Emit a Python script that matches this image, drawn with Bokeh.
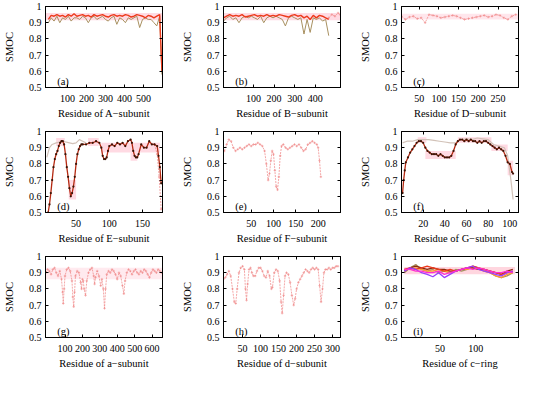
from bokeh.plotting import figure
from bokeh.layouts import gridplot
from bokeh.models import FixedTicker, LinearAxis, CustomJSTickFormatter, Range1d, Label
from bokeh.embed import file_html
from bokeh.resources import INLINE

FONT = "'Liberation Serif', serif"
YTICKS = [0.5, 0.6, 0.7, 0.8, 0.9, 1.0]

# ---------------- data ----------------
# (a) A-subunit
A_x = list(range(0, 586, 15)) + [597]
A_red = [0.92, 0.945, 0.94, 0.95, 0.94, 0.945, 0.935, 0.95, 0.94, 0.955,
         0.94, 0.945, 0.95, 0.94, 0.945, 0.935, 0.95, 0.94, 0.945, 0.95,
         0.94, 0.935, 0.945, 0.95, 0.94, 0.945, 0.94, 0.95, 0.945, 0.935,
         0.94, 0.95, 0.945, 0.94, 0.93, 0.945, 0.94, 0.93, 0.94, 0.95, 0.60]
A_dark = [0.90, 0.93, 0.91, 0.94, 0.90, 0.93, 0.92, 0.94, 0.91, 0.93,
          0.93, 0.92, 0.94, 0.93, 0.90, 0.93, 0.94, 0.92, 0.93, 0.94,
          0.92, 0.91, 0.93, 0.94, 0.89, 0.93, 0.92, 0.90, 0.93, 0.92,
          0.93, 0.94, 0.87, 0.92, 0.93, 0.92, 0.92, 0.90, 0.88, 0.94, 0.58]
A_band = [(-15, 600, 0.915, 0.96)]

# (b) B-subunit
B_x = list(range(-45, 470, 15))
B_red = [0.93, 0.94, 0.95, 0.94, 0.945, 0.94, 0.95, 0.935, 0.94, 0.945,
         0.95, 0.94, 0.945, 0.94, 0.95, 0.94, 0.945, 0.94, 0.95, 0.945,
         0.94, 0.935, 0.945, 0.95, 0.94, 0.945, 0.93, 0.94, 0.92, 0.945,
         0.93, 0.945, 0.94, 0.93, 0.92]
B_dark = [0.91, 0.93, 0.94, 0.92, 0.93, 0.90, 0.93, 0.94, 0.93, 0.94,
          0.93, 0.92, 0.94, 0.90, 0.93, 0.94, 0.93, 0.94, 0.93, 0.92,
          0.88, 0.93, 0.94, 0.93, 0.92, 0.93, 0.83, 0.92, 0.84, 0.93,
          0.92, 0.93, 0.91, 0.92, 0.82]
B_tail = [(465, 0.93), (480, 0.95), (495, 0.94), (510, 0.96), (520, 0.95)]
B_band = [(-45, 522, 0.915, 0.96)]

# (c) D-subunit
C_x = list(range(5, 300, 10))
C_pink = [0.94, 0.92, 0.935, 0.94, 0.925, 0.93, 0.90, 0.95, 0.945, 0.94,
          0.93, 0.935, 0.94, 0.945, 0.94, 0.93, 0.92, 0.925, 0.93, 0.935,
          0.94, 0.945, 0.935, 0.94, 0.95, 0.945, 0.93, 0.92, 0.94, 0.95]
C_band = [(5, 302, 0.92, 0.955)]

# (d) E-subunit
D_dark = [(8, 0.50), (10, 0.55), (12, 0.62), (14, 0.70), (16, 0.78), (18, 0.83), (20, 0.86),
          (22, 0.88), (24, 0.91), (26, 0.93), (28, 0.94), (30, 0.94), (32, 0.92), (34, 0.86),
          (36, 0.78), (38, 0.72), (40, 0.65), (42, 0.60), (44, 0.62), (46, 0.66), (48, 0.72),
          (50, 0.80), (52, 0.86), (54, 0.89), (56, 0.91), (58, 0.92), (60, 0.92), (65, 0.92),
          (70, 0.93), (75, 0.93), (80, 0.94), (85, 0.93), (88, 0.90), (90, 0.85), (92, 0.83),
          (94, 0.83), (96, 0.84), (98, 0.88), (100, 0.91), (104, 0.92), (108, 0.91), (112, 0.93),
          (116, 0.92), (120, 0.93), (124, 0.91), (128, 0.94), (132, 0.95), (134, 0.93), (136, 0.88),
          (138, 0.85), (140, 0.84), (142, 0.84), (144, 0.86), (148, 0.92), (152, 0.90), (156, 0.90),
          (160, 0.94), (164, 0.92), (168, 0.92), (172, 0.91), (174, 0.85), (176, 0.78), (178, 0.68)]
D_gray = [(6, 0.84), (10, 0.90), (14, 0.92), (20, 0.93), (30, 0.94), (40, 0.93), (45, 0.925),
          (50, 0.93), (55, 0.95), (60, 0.94), (65, 0.93)]
D_pink_end = [(168, 0.92), (172, 0.86), (175, 0.72), (178, 0.52)]
D_band = [(20, 33, 0.91, 0.96), (39, 50, 0.58, 0.70), (68, 84, 0.91, 0.96),
          (88, 176, 0.87, 0.93), (132, 142, 0.82, 0.87)]

# (e) F-subunit
E_pink = [(-10, 0.88), (-5, 0.92), (0, 0.95), (5, 0.94), (10, 0.90), (15, 0.88), (20, 0.89),
          (25, 0.90), (30, 0.89), (35, 0.90), (40, 0.91), (45, 0.92), (50, 0.91), (55, 0.92),
          (60, 0.92), (65, 0.93), (70, 0.92), (75, 0.91), (80, 0.88), (84, 0.80), (88, 0.70),
          (91, 0.74), (94, 0.82), (97, 0.88), (100, 0.86), (103, 0.76), (106, 0.66), (109, 0.64),
          (112, 0.72), (115, 0.85), (118, 0.91), (122, 0.92), (127, 0.90), (132, 0.89), (137, 0.90),
          (142, 0.91), (147, 0.92), (152, 0.91), (157, 0.92), (162, 0.90), (167, 0.88), (172, 0.89),
          (177, 0.92), (182, 0.93), (187, 0.94), (192, 0.93), (197, 0.92), (200, 0.90), (203, 0.82),
          (206, 0.72)]

# (f) G-subunit
F_dark = [(1, 0.62), (2, 0.70), (3, 0.76), (4, 0.81), (6, 0.84), (8, 0.87), (10, 0.89), (12, 0.91),
          (14, 0.93), (16, 0.94), (18, 0.94), (20, 0.93), (22, 0.90), (24, 0.88), (26, 0.87),
          (28, 0.86), (30, 0.86), (32, 0.86), (34, 0.85), (36, 0.86), (38, 0.85), (40, 0.84),
          (42, 0.84), (44, 0.84), (46, 0.85), (48, 0.88), (50, 0.92), (52, 0.94), (54, 0.95),
          (56, 0.95), (58, 0.94), (60, 0.95), (62, 0.94), (64, 0.95), (66, 0.94), (68, 0.94),
          (70, 0.93), (72, 0.94), (74, 0.93), (76, 0.94), (78, 0.94), (80, 0.93), (82, 0.92),
          (84, 0.91), (86, 0.90), (88, 0.89), (90, 0.90), (92, 0.89), (94, 0.88), (96, 0.85),
          (98, 0.81), (100, 0.80), (102, 0.75), (103, 0.74)]
F_gray = [(1, 0.93), (5, 0.94), (10, 0.94), (15, 0.95), (20, 0.95), (25, 0.95), (30, 0.945),
          (35, 0.94), (40, 0.935), (45, 0.93), (50, 0.93), (55, 0.95), (60, 0.955), (65, 0.95),
          (70, 0.96), (75, 0.955), (80, 0.95), (85, 0.92), (90, 0.91), (95, 0.90), (98, 0.85),
          (101, 0.70), (103, 0.58)]
F_band = [(15, 23, 0.93, 0.965), (22, 50, 0.83, 0.88), (52, 83, 0.93, 0.965),
          (83, 98, 0.88, 0.92), (98, 103, 0.73, 0.82)]

# (g) a-subunit
G_pink = [(-10, 0.90), (0, 0.92), (10, 0.91), (20, 0.89), (30, 0.92), (40, 0.93), (50, 0.90),
          (60, 0.88), (70, 0.91), (80, 0.86), (86, 0.78), (90, 0.71), (95, 0.80), (100, 0.88),
          (110, 0.92), (120, 0.93), (130, 0.91), (140, 0.85), (145, 0.75), (150, 0.69), (155, 0.78),
          (160, 0.88), (170, 0.91), (180, 0.90), (190, 0.84), (195, 0.80), (200, 0.86), (205, 0.85),
          (210, 0.80), (218, 0.76), (225, 0.85), (235, 0.90), (245, 0.92), (255, 0.93), (265, 0.88),
          (270, 0.83), (275, 0.87), (285, 0.91), (295, 0.88), (305, 0.82), (312, 0.86), (320, 0.80),
          (327, 0.68), (333, 0.80), (340, 0.89), (350, 0.91), (360, 0.90), (370, 0.92), (380, 0.91),
          (390, 0.89), (400, 0.86), (410, 0.90), (420, 0.88), (430, 0.82), (438, 0.77), (445, 0.85),
          (455, 0.90), (465, 0.92), (475, 0.91), (485, 0.89), (495, 0.91), (505, 0.92), (515, 0.90),
          (525, 0.89), (535, 0.91), (545, 0.90), (555, 0.92), (565, 0.91), (575, 0.89), (585, 0.87),
          (595, 0.90), (605, 0.92), (615, 0.91), (625, 0.90), (635, 0.92), (645, 0.91), (655, 0.90)]
G_band = [(-12, 660, 0.86, 0.93)]

# (h) d-subunit
H_pink = [(-3, 0.86), (2, 0.87), (7, 0.89), (12, 0.91), (17, 0.88), (22, 0.80), (27, 0.72),
          (31, 0.71), (35, 0.80), (40, 0.90), (45, 0.93), (50, 0.94), (55, 0.92), (58, 0.80),
          (61, 0.73), (64, 0.83), (68, 0.92), (72, 0.93), (76, 0.90), (80, 0.88), (85, 0.88),
          (90, 0.91), (95, 0.93), (100, 0.93), (105, 0.91), (110, 0.88), (115, 0.87), (120, 0.91),
          (125, 0.88), (130, 0.80), (133, 0.81), (138, 0.90), (143, 0.92), (148, 0.91), (153, 0.85),
          (157, 0.72), (160, 0.65), (164, 0.76), (168, 0.88), (172, 0.90), (177, 0.89), (182, 0.84),
          (187, 0.76), (192, 0.70), (196, 0.74), (200, 0.80), (205, 0.84), (210, 0.86), (215, 0.88),
          (220, 0.90), (225, 0.92), (230, 0.91), (235, 0.90), (240, 0.92), (245, 0.93), (250, 0.92),
          (255, 0.93), (260, 0.92), (264, 0.82), (268, 0.72), (272, 0.80), (276, 0.90), (280, 0.92),
          (285, 0.92), (290, 0.93), (295, 0.92), (300, 0.93), (305, 0.93), (310, 0.94), (315, 0.94)]

# (i) c-ring
I_x = list(range(0, 153, 8))
I_red = [0.92, 0.93, 0.92, 0.93, 0.94, 0.93, 0.92, 0.91, 0.92, 0.91,
         0.92, 0.93, 0.94, 0.93, 0.92, 0.91, 0.90, 0.89, 0.90, 0.91]
I_dark = [0.91, 0.93, 0.94, 0.93, 0.92, 0.93, 0.92, 0.92, 0.91, 0.91,
          0.92, 0.93, 0.93, 0.92, 0.92, 0.91, 0.90, 0.89, 0.91, 0.92]
I_olive = [0.90, 0.93, 0.95, 0.92, 0.91, 0.92, 0.90, 0.91, 0.90, 0.92,
           0.91, 0.92, 0.94, 0.93, 0.91, 0.90, 0.88, 0.87, 0.88, 0.90]
I_magenta = [0.92, 0.92, 0.91, 0.91, 0.90, 0.90, 0.91, 0.89, 0.90, 0.91,
             0.92, 0.93, 0.92, 0.93, 0.92, 0.91, 0.90, 0.90, 0.91, 0.90]
I_purple = [0.91, 0.93, 0.92, 0.90, 0.89, 0.875, 0.90, 0.87, 0.89, 0.91,
            0.92, 0.93, 0.94, 0.92, 0.91, 0.90, 0.89, 0.88, 0.90, 0.91]
I_orange = [0.92, 0.92, 0.93, 0.92, 0.91, 0.91, 0.92, 0.91, 0.90, 0.91,
            0.92, 0.92, 0.93, 0.92, 0.91, 0.90, 0.88, 0.87, 0.89, 0.90]
I_band = [(0, 155, 0.89, 0.935)]

PANELS = [
    ("(a)", "Residue of A\u2212subunit", (-15, 600), [100, 200, 300, 400, 500]),
    ("(b)", "Residue of B\u2212subunit", (-45, 522), [100, 200, 300, 400]),
    ("(c)", "Residue of D\u2212subunit", (5, 302), [50, 100, 150, 200, 250]),
    ("(d)", "Residue of E\u2212subunit", (4, 180), [50, 100, 150]),
    ("(e)", "Residue of F\u2212subunit", (-12, 250), [50, 100, 150, 200]),
    ("(f)", "Residue of G\u2212subunit", (0, 108), [20, 40, 60, 80, 100]),
    ("(g)", "Residue of a\u2212subunit", (-12, 660), [100, 200, 300, 400, 500, 600]),
    ("(h)", "Residue of d\u2212subunit", (-3, 322), [50, 100, 150, 200, 250, 300]),
    ("(i)", "Residue of c\u2212ring", (-4, 160), [50, 100]),
]

# ---------------- styles ----------------
COL = {
    "red": "#ec3a1c", "dark": "#8a2a0c", "olive": "#a89060", "pink": "#f08a8a",
    "gray": "#d2c2b8", "magenta": "#ff2fd0", "purple": "#9a3cff", "orange": "#ff9a30",
}


def unzip(pairs):
    return [q[0] for q in pairs], [q[1] for q in pairs]


def style_axis(ax, label_size="10px"):
    ax.major_label_text_font = FONT
    ax.major_label_text_font_size = label_size
    ax.major_label_text_color = "black"
    ax.axis_label_text_font = FONT
    ax.axis_label_text_font_size = "10.5px"
    ax.axis_label_text_font_style = "normal"
    ax.axis_label_text_color = "black"
    ax.major_tick_in = 3
    ax.major_tick_out = 0
    ax.minor_tick_line_color = None
    ax.axis_line_color = "black"
    ax.major_tick_line_color = "black"


def make_panel(tag, xlabel, xr, xticks):
    p = figure(width=178, height=125, output_backend="svg", toolbar_location=None,
               x_range=Range1d(*xr), y_range=Range1d(0.5, 1.0),
               min_border_left=45, min_border_right=16, min_border_top=6,
               min_border_bottom=38)
    p.outline_line_color = "black"
    p.xgrid.visible = False
    p.ygrid.visible = False
    p.xaxis.ticker = FixedTicker(ticks=xticks)
    p.yaxis.ticker = FixedTicker(ticks=YTICKS)
    p.yaxis.formatter = CustomJSTickFormatter(code="return String(Math.round(tick*10)/10);")
    for ax in p.xaxis:
        style_axis(ax)
        ax.axis_label = xlabel
        ax.major_label_standoff = 7
        ax.axis_label_standoff = 3
    for ax in p.yaxis:
        style_axis(ax)
        ax.axis_label = "SMOC"
        ax.major_label_standoff = 4
        ax.axis_label_standoff = 11
    right = LinearAxis(ticker=FixedTicker(ticks=YTICKS))
    top = LinearAxis(ticker=FixedTicker(ticks=xticks))
    for ax in (right, top):
        style_axis(ax, "0px")
        ax.major_label_standoff = 0
        ax.major_label_text_color = None
    p.add_layout(right, "right")
    p.add_layout(top, "above")
    span = xr[1] - xr[0]
    p.add_layout(Label(x=xr[0] + 0.1 * span, y=0.535, text=tag, text_font=FONT,
                       text_font_size="10.5px", text_baseline="middle", text_color="black"))
    return p


def band(p, quads, alpha=0.45):
    p.quad(left=[q[0] for q in quads], right=[q[1] for q in quads],
           bottom=[q[2] for q in quads], top=[q[3] for q in quads],
           fill_color="#ffadc0", fill_alpha=alpha, line_color=None)


def line(p, x, y, kind, width=1.0, dash="solid", alpha=1.0):
    p.line(x, y, line_color=COL[kind], line_width=width, line_dash=dash, line_alpha=alpha)


def dotted(p, x, y):
    p.line(x, y, line_color=COL["pink"], line_width=1.0, line_dash="2 1", line_alpha=0.75)
    p.scatter(x, y, marker="cross", size=2.5, line_color=COL["pink"], line_alpha=0.6)


def darkdots(p, x, y):
    p.line(x, y, line_color="#b52a12", line_width=1.3)
    p.scatter(x, y, marker="circle", size=2.2, fill_color="#3a1406", line_color=None)


figs = [make_panel(*spec) for spec in PANELS]
pa, pb, pc, pd, pe, pf, pg, ph, pi = figs

# (a)
band(pa, A_band)
line(pa, A_x, A_dark, "olive", 1.0)
line(pa, A_x, A_red, "red", 1.4)
# (b)
band(pb, B_band)
bx, by = unzip(B_tail)
dotted(pb, bx, by)
line(pb, B_x, B_dark, "olive", 1.0)
line(pb, B_x, B_red, "red", 1.4)
# (c)
band(pc, C_band, 0.3)
dotted(pc, C_x, C_pink)
# (d)
band(pd, D_band)
x, y = unzip(D_pink_end)
dotted(pd, x, y)
x, y = unzip(D_gray)
line(pd, x, y, "gray", 1.2)
x, y = unzip(D_dark)
darkdots(pd, x, y)
# (e)
x, y = unzip(E_pink)
dotted(pe, x, y)
# (f)
band(pf, F_band)
x, y = unzip(F_gray)
line(pf, x, y, "gray", 1.2)
x, y = unzip(F_dark)
darkdots(pf, x, y)
# (g)
band(pg, G_band, 0.25)
x, y = unzip(G_pink)
dotted(pg, x, y)
# (h)
x, y = unzip(H_pink)
dotted(ph, x, y)
# (i)
band(pi, I_band, 0.5)
line(pi, I_x, I_olive, "olive", 1.3)
line(pi, I_x, I_orange, "orange", 1.3)
line(pi, I_x, I_dark, "dark", 1.3)
line(pi, I_x, I_red, "red", 1.3)
line(pi, I_x, I_purple, "purple", 1.3)
line(pi, I_x, I_magenta, "magenta", 1.3)

grid = gridplot([[pa, pb, pc], [pd, pe, pf], [pg, ph, pi]], toolbar_location=None)

open("out.html", "w").write(file_html(grid, INLINE))
